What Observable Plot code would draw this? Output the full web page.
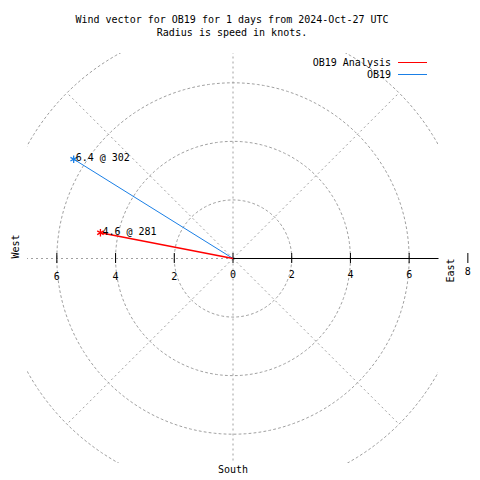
<!DOCTYPE html>
<html>
<head>
<meta charset="utf-8">
<script src="https://cdn.jsdelivr.net/npm/d3@7"></script>
<script src="https://cdn.jsdelivr.net/npm/@observablehq/plot@0.6"></script>
<style>
  html, body { margin: 0; padding: 0; background: #fff; }
  #wrap { position: relative; width: 480px; height: 480px; overflow: hidden; font-family: "DejaVu Sans Mono", monospace; font-size: 10px; color: #000; }
  #wrap svg { position: absolute; left: 0; top: 0; }
  .t { position: absolute; left: 0; width: 464px; text-align: center; line-height: 12px; white-space: pre; }
  .lg { position: absolute; right: 89px; line-height: 12px; white-space: pre; text-align: right; }
  .ll { position: absolute; left: 398px; width: 29px; }
</style>
</head>
<body>
<div id="wrap"></div>
<script>
// ---- data ----
const title1 = "Wind vector for OB19 for 1 days from 2024-Oct-27 UTC";
const title2 = "Radius is speed in knots.";
const seriesNames = ["OB19 Analysis", "OB19"];
const speeds = [4.6, 6.4];          // knots
const directions = [281, 302];      // degrees (compass)
const gridRadii = [2, 4, 6, 8];
const spokeAngles = [0, 45, 90, 135, 180, 225, 270, 315];
const xTickValues = [-6, -4, -2, 0, 2, 4, 6];
const rTickValues = [8];
const compassLabels = ["West", "East", "South"];

// ---- styles ----
const seriesColors = ["#ff0000", "#1a7fe6"];
const seriesWidths = [1.5, 1];
const gridColor = "#a0a0a0";

const rad = d => d * Math.PI / 180;
const vectors = seriesNames.map((name, i) => ({
  name, speed: speeds[i], dir: directions[i],
  x: speeds[i] * Math.sin(rad(directions[i])),
  y: speeds[i] * Math.cos(rad(directions[i])),
  color: seriesColors[i], width: seriesWidths[i],
  label: `${speeds[i]} @ ${directions[i]}`
})).reverse();

const circlePts = gridRadii.flatMap(r => d3.range(0, 361, 2).map(a => ({r, x: r * Math.cos(rad(a)), y: r * Math.sin(rad(a))})));
const spokes = spokeAngles.map(a => ({x2: 8 * Math.cos(rad(a)), y2: 8 * Math.sin(rad(a))}));

const chart = Plot.plot({
  width: 480, height: 480,
  marginLeft: 27, marginRight: 42, marginTop: 53, marginBottom: 17,
  x: {domain: [-7, 7], axis: null},
  y: {domain: [-7, 7], axis: null},
  style: {fontFamily: "DejaVu Sans Mono", fontSize: "10px", background: "white", overflow: "visible"},
  marks: [
    Plot.line(circlePts, {x: "x", y: "y", z: "r", stroke: gridColor, strokeDasharray: "2,3", strokeWidth: 1, clip: true}),
    Plot.link(spokes, {x1: () => 0, y1: () => 0, x2: "x2", y2: "y2", stroke: gridColor, strokeDasharray: "2,3", strokeWidth: 1, clip: true}),
    Plot.link([7], {x1: () => 0, y1: () => 0, x2: d => d, y2: () => 0, stroke: "black", strokeWidth: 1.2}),
    Plot.ruleX(xTickValues.concat(rTickValues), {x: d => d, y1: () => 0, y2: () => 0, insetTop: -5, insetBottom: -5, stroke: "black", strokeWidth: 1}),
    Plot.text(xTickValues.filter(d => d < 0), {x: d => d, y: () => 0, text: d => String(Math.abs(d)), dy: 18}),
    Plot.text(xTickValues.filter(d => d >= 0), {x: d => d, y: () => 0, text: d => String(d), dy: 16}),
    Plot.text(rTickValues, {x: d => d, y: () => 0, text: d => String(d), dy: 13}),
    Plot.text([compassLabels[0]], {frameAnchor: "left", text: d => d, rotate: -90, dx: -12}),
    Plot.text([compassLabels[1]], {frameAnchor: "right", text: d => d, rotate: -90, dx: 12}),
    Plot.text([compassLabels[2]], {frameAnchor: "bottom", text: d => d, dy: 9}),
    Plot.link(vectors, {x1: () => 0, y1: () => 0, x2: "x", y2: "y", stroke: "color", strokeWidth: "width"}),
    Plot.dot(vectors, {x: "x", y: "y", symbol: "asterisk", r: 3.5, stroke: "color", strokeWidth: 1.3}),
    Plot.text(vectors, {x: "x", y: "y", text: "label", textAnchor: "start", dx: 2, dy: -1, fill: "black"})
  ]
});

const wrap = document.getElementById("wrap");
wrap.appendChild(chart);

function addDiv(cls, text, style) {
  const d = document.createElement("div");
  d.className = cls;
  if (text) d.textContent = text;
  Object.assign(d.style, style);
  wrap.appendChild(d);
  return d;
}
addDiv("t", title1, {top: "14px"});
addDiv("t", title2, {top: "27px"});
const legendYs = [63, 75];
seriesNames.forEach((name, i) => {
  addDiv("lg", name, {top: (legendYs[i] - 6) + "px"});
  addDiv("ll", "", {top: (legendYs[i] - 1) + "px", height: "0px", borderTop: `1.5px solid ${seriesColors[i]}`});
});
</script>
</body>
</html>
